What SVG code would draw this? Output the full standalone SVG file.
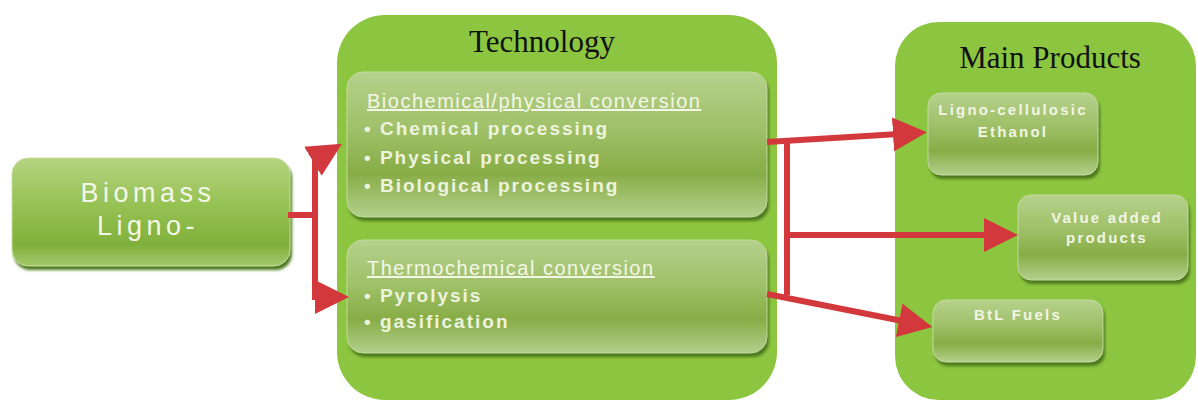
<svg xmlns="http://www.w3.org/2000/svg" width="1198" height="403" viewBox="0 0 1198 403">
  <style>
    .panel { fill: #8cc540; }
    .title { font-family: "Liberation Serif", "Times New Roman", serif; font-size: 31px; fill: #111; text-anchor: middle; }
    .box { fill: url(#boxGrad); stroke: #c4dba0; stroke-width: 1; }
    .shadow { fill: #4c781a; filter: url(#soft); }
    .head { font-family: "Liberation Sans", Arial, sans-serif; font-size: 20px; fill: #f4f7e8; letter-spacing: 1.5px; text-decoration: underline; }
    .item { font-family: "Liberation Sans", Arial, sans-serif; font-size: 19px; font-weight: bold; fill: #eef3de; letter-spacing: 2px; }
    .prod { font-family: "Liberation Sans", Arial, sans-serif; font-size: 15px; font-weight: bold; fill: #f2f5e4; letter-spacing: 2.2px; text-anchor: middle; }
    .big { font-family: "Liberation Sans", Arial, sans-serif; font-size: 27px; fill: #f4f7e8; letter-spacing: 4.5px; text-anchor: middle; }
    .wire { fill: none; stroke: #d2383c; stroke-width: 6; stroke-linejoin: miter; }
    .arrow { fill: none; stroke: #d2383c; stroke-width: 6; marker-end: url(#tip); }
  </style>
  <defs>
    <linearGradient id="boxGrad" x1="0" y1="0" x2="0" y2="1">
      <stop offset="0" stop-color="#b6d18c"/>
      <stop offset="0.4" stop-color="#9fc068"/>
      <stop offset="0.7" stop-color="#87ad46"/>
      <stop offset="0.92" stop-color="#a8c679"/>
      <stop offset="1" stop-color="#b5d08c"/>
    </linearGradient>
    <linearGradient id="srcGrad" x1="0" y1="0" x2="0" y2="1">
      <stop offset="0" stop-color="#b4d380"/>
      <stop offset="0.45" stop-color="#95c152"/>
      <stop offset="0.8" stop-color="#80b03b"/>
      <stop offset="1" stop-color="#a5c96e"/>
    </linearGradient>
    <filter id="soft" x="-5%" y="-5%" width="110%" height="120%">
      <feGaussianBlur stdDeviation="1.5"/>
    </filter>
    <marker id="tip" viewBox="0 0 34 34" refX="6" refY="17" markerWidth="34" markerHeight="34" markerUnits="userSpaceOnUse" orient="auto">
      <path d="M0,0 L34,17 L0,34 z" fill="#d2383c"/>
    </marker>
  </defs>

  <!-- source -->
  <g id="biomass">
    <rect class="shadow" x="14" y="162" width="278" height="108" rx="16"/>
    <rect x="12" y="158" width="278" height="108" rx="16" fill="url(#srcGrad)" stroke="#c8e0a0" stroke-width="1"/>
    <text class="big" x="148" y="202">Biomass</text>
    <text class="big" x="148" y="235">Ligno-</text>
  </g>

  <!-- technology panel -->
  <g id="technology">
    <rect class="panel" x="337" y="15" width="440" height="385" rx="48"/>
    <text class="title" x="542" y="52">Technology</text>
  </g>

  <g id="biochemical">
    <rect class="shadow" x="349" y="76" width="420" height="145" rx="16"/>
    <rect class="box" x="347" y="72" width="420" height="145" rx="16"/>
    <text class="head" x="367" y="108">Biochemical/physical conversion</text>
    <text class="item" x="364" y="135">• Chemical processing</text>
    <text class="item" x="364" y="164">• Physical processing</text>
    <text class="item" x="364" y="192">• Biological processing</text>
  </g>

  <g id="thermochemical">
    <rect class="shadow" x="349" y="244" width="420" height="113" rx="16"/>
    <rect class="box" x="347" y="240" width="420" height="113" rx="16"/>
    <text class="head" x="367" y="275">Thermochemical conversion</text>
    <text class="item" x="364" y="302">• Pyrolysis</text>
    <text class="item" x="364" y="328">• gasification</text>
  </g>

  <!-- products panel -->
  <g id="products">
    <rect class="panel" x="895" y="22" width="301" height="378" rx="44"/>
    <text class="title" x="1050" y="68">Main Products</text>
  </g>

  <g id="ethanol">
    <rect class="shadow" x="930" y="97" width="170" height="82" rx="13"/>
    <rect class="box" x="928" y="93" width="170" height="82" rx="13"/>
    <text class="prod" x="1013" y="115">Ligno-cellulosic</text>
    <text class="prod" x="1013" y="137">Ethanol</text>
  </g>

  <g id="value-added">
    <rect class="shadow" x="1020" y="199" width="170" height="85" rx="13"/>
    <rect class="box" x="1018" y="195" width="170" height="85" rx="13"/>
    <text class="prod" x="1107" y="223">Value added</text>
    <text class="prod" x="1107" y="243">products</text>
  </g>

  <g id="btl">
    <rect class="shadow" x="935" y="304" width="170" height="62" rx="13"/>
    <rect class="box" x="933" y="300" width="170" height="62" rx="13"/>
    <text class="prod" x="1018" y="320">BtL Fuels</text>
  </g>

  <!-- connectors -->
  <g id="connectors">
    <path class="wire" d="M288,215 H315"/>
    <path class="arrow" d="M315,297 V160 L318,158.2"/>
    <path class="arrow" d="M315,220 V297 H321"/>
    <path class="wire" d="M787,142 V295"/>
    <path class="arrow" d="M767,142 L899,134"/>
    <path class="arrow" d="M787,235 H990"/>
    <path class="arrow" d="M767,294 L905,321.5"/>
  </g>
</svg>
